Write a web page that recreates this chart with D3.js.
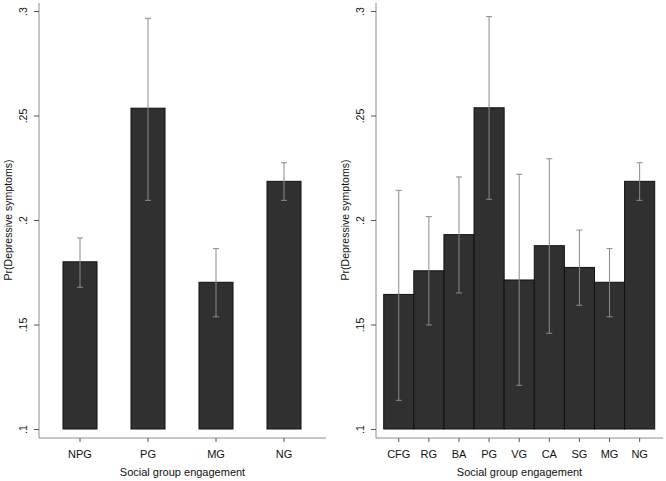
<!DOCTYPE html>
<html>
<head>
<meta charset="utf-8">
<script src="https://cdn.jsdelivr.net/npm/d3@7"></script>
<style>
  body { margin: 0; background: #fff; }
  svg { display: block; font-family: "Liberation Sans", Arial, sans-serif; }
</style>
</head>
<body>
<div id="chart"></div>
<script>
// left panel: broad groups
const leftGroups = ["NPG", "PG", "MG", "NG"];
const leftMean = [0.180, 0.2535, 0.1702, 0.2185];
const leftLow = [0.1678, 0.2094, 0.1537, 0.2094];
const leftHigh = [0.1914, 0.2965, 0.1863, 0.2274];

// right panel: detailed groups
const rightGroups = ["CFG", "RG", "BA", "PG", "VG", "CA", "SG", "MG", "NG"];
const rightMean = [0.1644, 0.1757, 0.1930, 0.2537, 0.1713, 0.1877, 0.1773, 0.1702, 0.2185];
const rightLow = [0.1137, 0.1498, 0.1651, 0.2099, 0.1209, 0.1458, 0.1592, 0.1537, 0.2094];
const rightHigh = [0.2142, 0.2016, 0.2206, 0.2973, 0.2219, 0.2293, 0.1952, 0.1863, 0.2274];

const yTicks = [0.1, 0.15, 0.2, 0.25, 0.3];
const yTitle = "Pr(Depressive symptoms)";
const xTitle = "Social group engagement";

const W = 666, H = 481;
const svg = d3.select("#chart").append("svg")
  .attr("width", W).attr("height", H);

const y = d3.scaleLinear().domain([0.1, 0.3]).range([429, 11]);
const fmt = d => String(d).replace(/^0/, "");

function panel(cats, mean, low, high, opt) {
  const g = svg.append("g");
  const data = cats.map((c, i) => ({ c, m: mean[i], lo: low[i], hi: high[i] }));

  const x = d3.scaleBand().domain(cats)
    .range(opt.barRange)
    .paddingInner(opt.padIn).paddingOuter(opt.padOut);

  // bars
  g.selectAll("rect.bar").data(data).enter().append("rect")
    .attr("class", "bar")
    .attr("x", d => x(d.c))
    .attr("y", d => y(d.m))
    .attr("width", x.bandwidth())
    .attr("height", d => y(0.1) - y(d.m))
    .attr("fill", "#303030")
    .attr("stroke", "#111")
    .attr("stroke-width", 1);

  // error bars
  const eb = g.selectAll("g.eb").data(data).enter().append("g")
    .attr("stroke", "#8a8a8a").attr("stroke-width", 1);
  eb.append("line")
    .attr("x1", d => x(d.c) + x.bandwidth() / 2)
    .attr("x2", d => x(d.c) + x.bandwidth() / 2)
    .attr("y1", d => y(d.lo)).attr("y2", d => y(d.hi));
  eb.append("line")
    .attr("x1", d => x(d.c) + x.bandwidth() / 2 - 3)
    .attr("x2", d => x(d.c) + x.bandwidth() / 2 + 3)
    .attr("y1", d => y(d.hi)).attr("y2", d => y(d.hi));
  eb.append("line")
    .attr("x1", d => x(d.c) + x.bandwidth() / 2 - 3)
    .attr("x2", d => x(d.c) + x.bandwidth() / 2 + 3)
    .attr("y1", d => y(d.lo)).attr("y2", d => y(d.lo));

  // y axis
  const yAxis = g.append("g")
    .attr("transform", `translate(${opt.axisX},0)`)
    .call(d3.axisLeft(y).tickValues(yTicks).tickFormat(fmt).tickSize(5).tickPadding(4));
  yAxis.select(".domain").attr("d", `M0,3V438`).attr("stroke", "#8c8c8c");
  yAxis.selectAll(".tick line").attr("stroke", "#555");
  yAxis.selectAll(".tick text")
    .attr("transform", "rotate(-90)")
    .attr("x", 0).attr("y", -12)
    .attr("dy", 0)
    .attr("text-anchor", "middle")
    .attr("font-size", 10.5)
    .attr("fill", "#111");

  // x axis
  const xAxis = g.append("g")
    .attr("transform", "translate(0,438)")
    .call(d3.axisBottom(x).tickSize(4).tickPadding(8));
  xAxis.select(".domain").attr("d", `M${opt.axisX},0H${opt.axisEnd}`).attr("stroke", "#8c8c8c");
  xAxis.selectAll(".tick line").attr("stroke", "#555");
  xAxis.selectAll(".tick text")
    .attr("font-size", 11)
    .attr("fill", "#111");

  g.append("text")
    .attr("transform", `translate(${opt.axisX - 27},${y(0.2)}) rotate(-90)`)
    .attr("text-anchor", "middle")
    .attr("font-size", 10.5)
    .attr("fill", "#111")
    .text(yTitle);

  g.append("text")
    .attr("x", (opt.axisX + opt.axisEnd) / 2)
    .attr("y", 476)
    .attr("text-anchor", "middle")
    .attr("font-size", 11)
    .attr("fill", "#111")
    .text(xTitle);
}

panel(leftGroups, leftMean, leftLow, leftHigh,
  { barRange: [56.2, 307.8], padIn: 0.5, padOut: 0.1, axisX: 39, axisEnd: 326 });
panel(rightGroups, rightMean, rightLow, rightHigh,
  { barRange: [383.7, 654.7], padIn: 0, padOut: 0, axisX: 376, axisEnd: 663 });
</script>
</body>
</html>
